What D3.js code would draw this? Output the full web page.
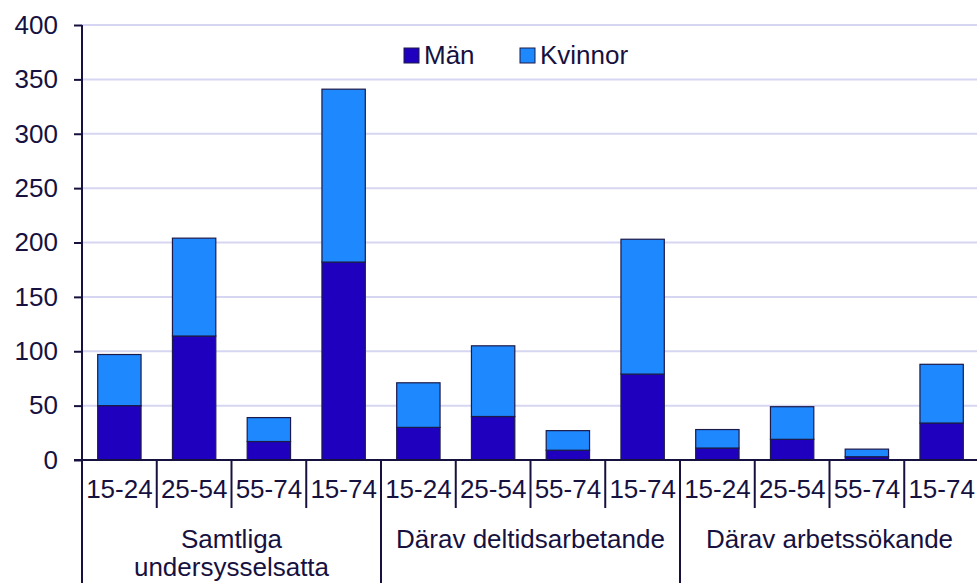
<!DOCTYPE html>
<html>
<head>
<meta charset="utf-8">
<script src="https://cdn.jsdelivr.net/npm/d3@7"></script>
<style>
  body { margin: 0; background: #fff; }
  svg text { font-family: "Liberation Sans", Arial, sans-serif; fill: #16113f; }
</style>
</head>
<body>
<div id="chart"></div>
<script>
// Undersysselsatta per grupp, ålder och kön (tusental)
const groups = [["Samtliga", "undersysselsatta"], ["Därav deltidsarbetande"], ["Därav arbetssökande"]];
const ages = ["15-24", "25-54", "55-74", "15-74"];
const man = [50, 114, 17, 182, 30, 40, 9, 79, 11, 19, 3, 34];
const kvinnor = [47, 90, 22, 159, 41, 65, 18, 124, 17, 30, 7, 54];
const yTicks = [0, 50, 100, 150, 200, 250, 300, 350, 400];
const seriesNames = ["Män", "Kvinnor"];

const width = 977, height = 583;
const plotLeft = 82, plotRight = 979, plotTop = 25, plotBottom = 460;
const ink = "#16113f";
const fontSize = 26;

const svg = d3.select("#chart").append("svg")
    .attr("width", width)
    .attr("height", height);

// one slot per group/age pair
const slots = [];
groups.forEach((g, gi) => ages.forEach((a, ai) => slots.push({ id: gi + "_" + ai, g: gi, age: a, i: gi * 4 + ai })));
const rows = slots.map(s => ({ id: s.id, age: s.age, g: s.g, "Män": man[s.i], "Kvinnor": kvinnor[s.i] }));

const x = d3.scaleBand().domain(slots.map(s => s.id)).range([plotLeft, plotRight]).padding(0);
const y = d3.scaleLinear().domain([0, 400]).range([plotBottom, plotTop]);
const color = d3.scaleOrdinal().domain(seriesNames).range(["#2000bf", "#1e88ff"]);

// gridlines
svg.append("g")
    .selectAll("line")
    .data(yTicks.filter(d => d > 0))
    .enter().append("line")
    .attr("x1", plotLeft).attr("x2", width)
    .attr("y1", d => y(d)).attr("y2", d => y(d))
    .attr("stroke", "#d6d6f2")
    .attr("stroke-width", 2);

// stacked bars
const stacked = d3.stack().keys(seriesNames)(rows);
const barW = x.bandwidth() * 0.58;
svg.append("g")
    .selectAll("g")
    .data(stacked)
    .enter().append("g")
    .attr("fill", d => color(d.key))
    .selectAll("rect")
    .data(d => d)
    .enter().append("rect")
    .attr("x", d => x(d.data.id) + (x.bandwidth() - barW) / 2)
    .attr("width", barW)
    .attr("y", d => y(d[1]))
    .attr("height", d => y(d[0]) - y(d[1]))
    .attr("stroke", "#1c1a48")
    .attr("stroke-width", 1.2);

// y axis
const yAxis = svg.append("g")
    .attr("transform", `translate(${plotLeft},0)`)
    .call(d3.axisLeft(y).tickValues(yTicks).tickSize(8).tickPadding(16));
yAxis.select(".domain").remove();
yAxis.selectAll(".tick line").attr("stroke", ink).attr("stroke-width", 2);
yAxis.selectAll(".tick text").attr("font-size", fontSize).style("font-family", "'Liberation Sans', Arial, sans-serif").attr("fill", ink);

svg.append("line")
    .attr("x1", plotLeft).attr("x2", plotLeft)
    .attr("y1", plotTop).attr("y2", height)
    .attr("stroke", ink).attr("stroke-width", 2);

// x axis baseline
svg.append("line")
    .attr("x1", plotLeft - 8).attr("x2", width)
    .attr("y1", plotBottom).attr("y2", plotBottom)
    .attr("stroke", ink).attr("stroke-width", 2);

// age labels
const xAxis = svg.append("g")
    .attr("transform", `translate(0,${plotBottom})`)
    .call(d3.axisBottom(x).tickSize(0).tickPadding(20).tickFormat(id => rows.find(r => r.id === id).age));
xAxis.select(".domain").remove();
xAxis.selectAll(".tick text").attr("font-size", fontSize).style("font-family", "'Liberation Sans', Arial, sans-serif").attr("fill", ink);

// separators between slots and groups
svg.append("g")
    .selectAll("line")
    .data(slots.filter(s => s.i > 0).concat([{ i: 12, g: 3 }]))
    .enter().append("line")
    .attr("x1", d => d.i < 12 ? x(d.id) : plotRight)
    .attr("x2", d => d.i < 12 ? x(d.id) : plotRight)
    .attr("y1", plotBottom)
    .attr("y2", d => d.i % 4 === 0 ? height : 508)
    .attr("stroke", ink)
    .attr("stroke-width", 2);

// group labels
const groupLabel = svg.append("g")
    .selectAll("text")
    .data(groups)
    .enter().append("text")
    .attr("x", (d, gi) => (x(gi + "_0") + (gi < 2 ? x((gi + 1) + "_0") : plotRight)) / 2)
    .attr("y", 548)
    .attr("text-anchor", "middle")
    .attr("font-size", fontSize);
groupLabel.selectAll("tspan")
    .data(d => d)
    .enter().append("tspan")
    .attr("x", function () { return this.parentNode.getAttribute("x"); })
    .attr("dy", (d, i) => i === 0 ? 0 : 28)
    .text(d => d);

// legend
const legendX = [404, 520];
const legend = svg.append("g")
    .selectAll("g")
    .data(seriesNames)
    .enter().append("g")
    .attr("transform", (d, i) => `translate(${legendX[i]},48)`);
legend.append("rect")
    .attr("width", 15).attr("height", 15)
    .attr("fill", d => color(d))
    .attr("stroke", "#1c1a48").attr("stroke-width", 1);
legend.append("text")
    .attr("x", 20).attr("y", 15.5)
    .attr("font-size", fontSize)
    .text(d => d);
</script>
</body>
</html>
